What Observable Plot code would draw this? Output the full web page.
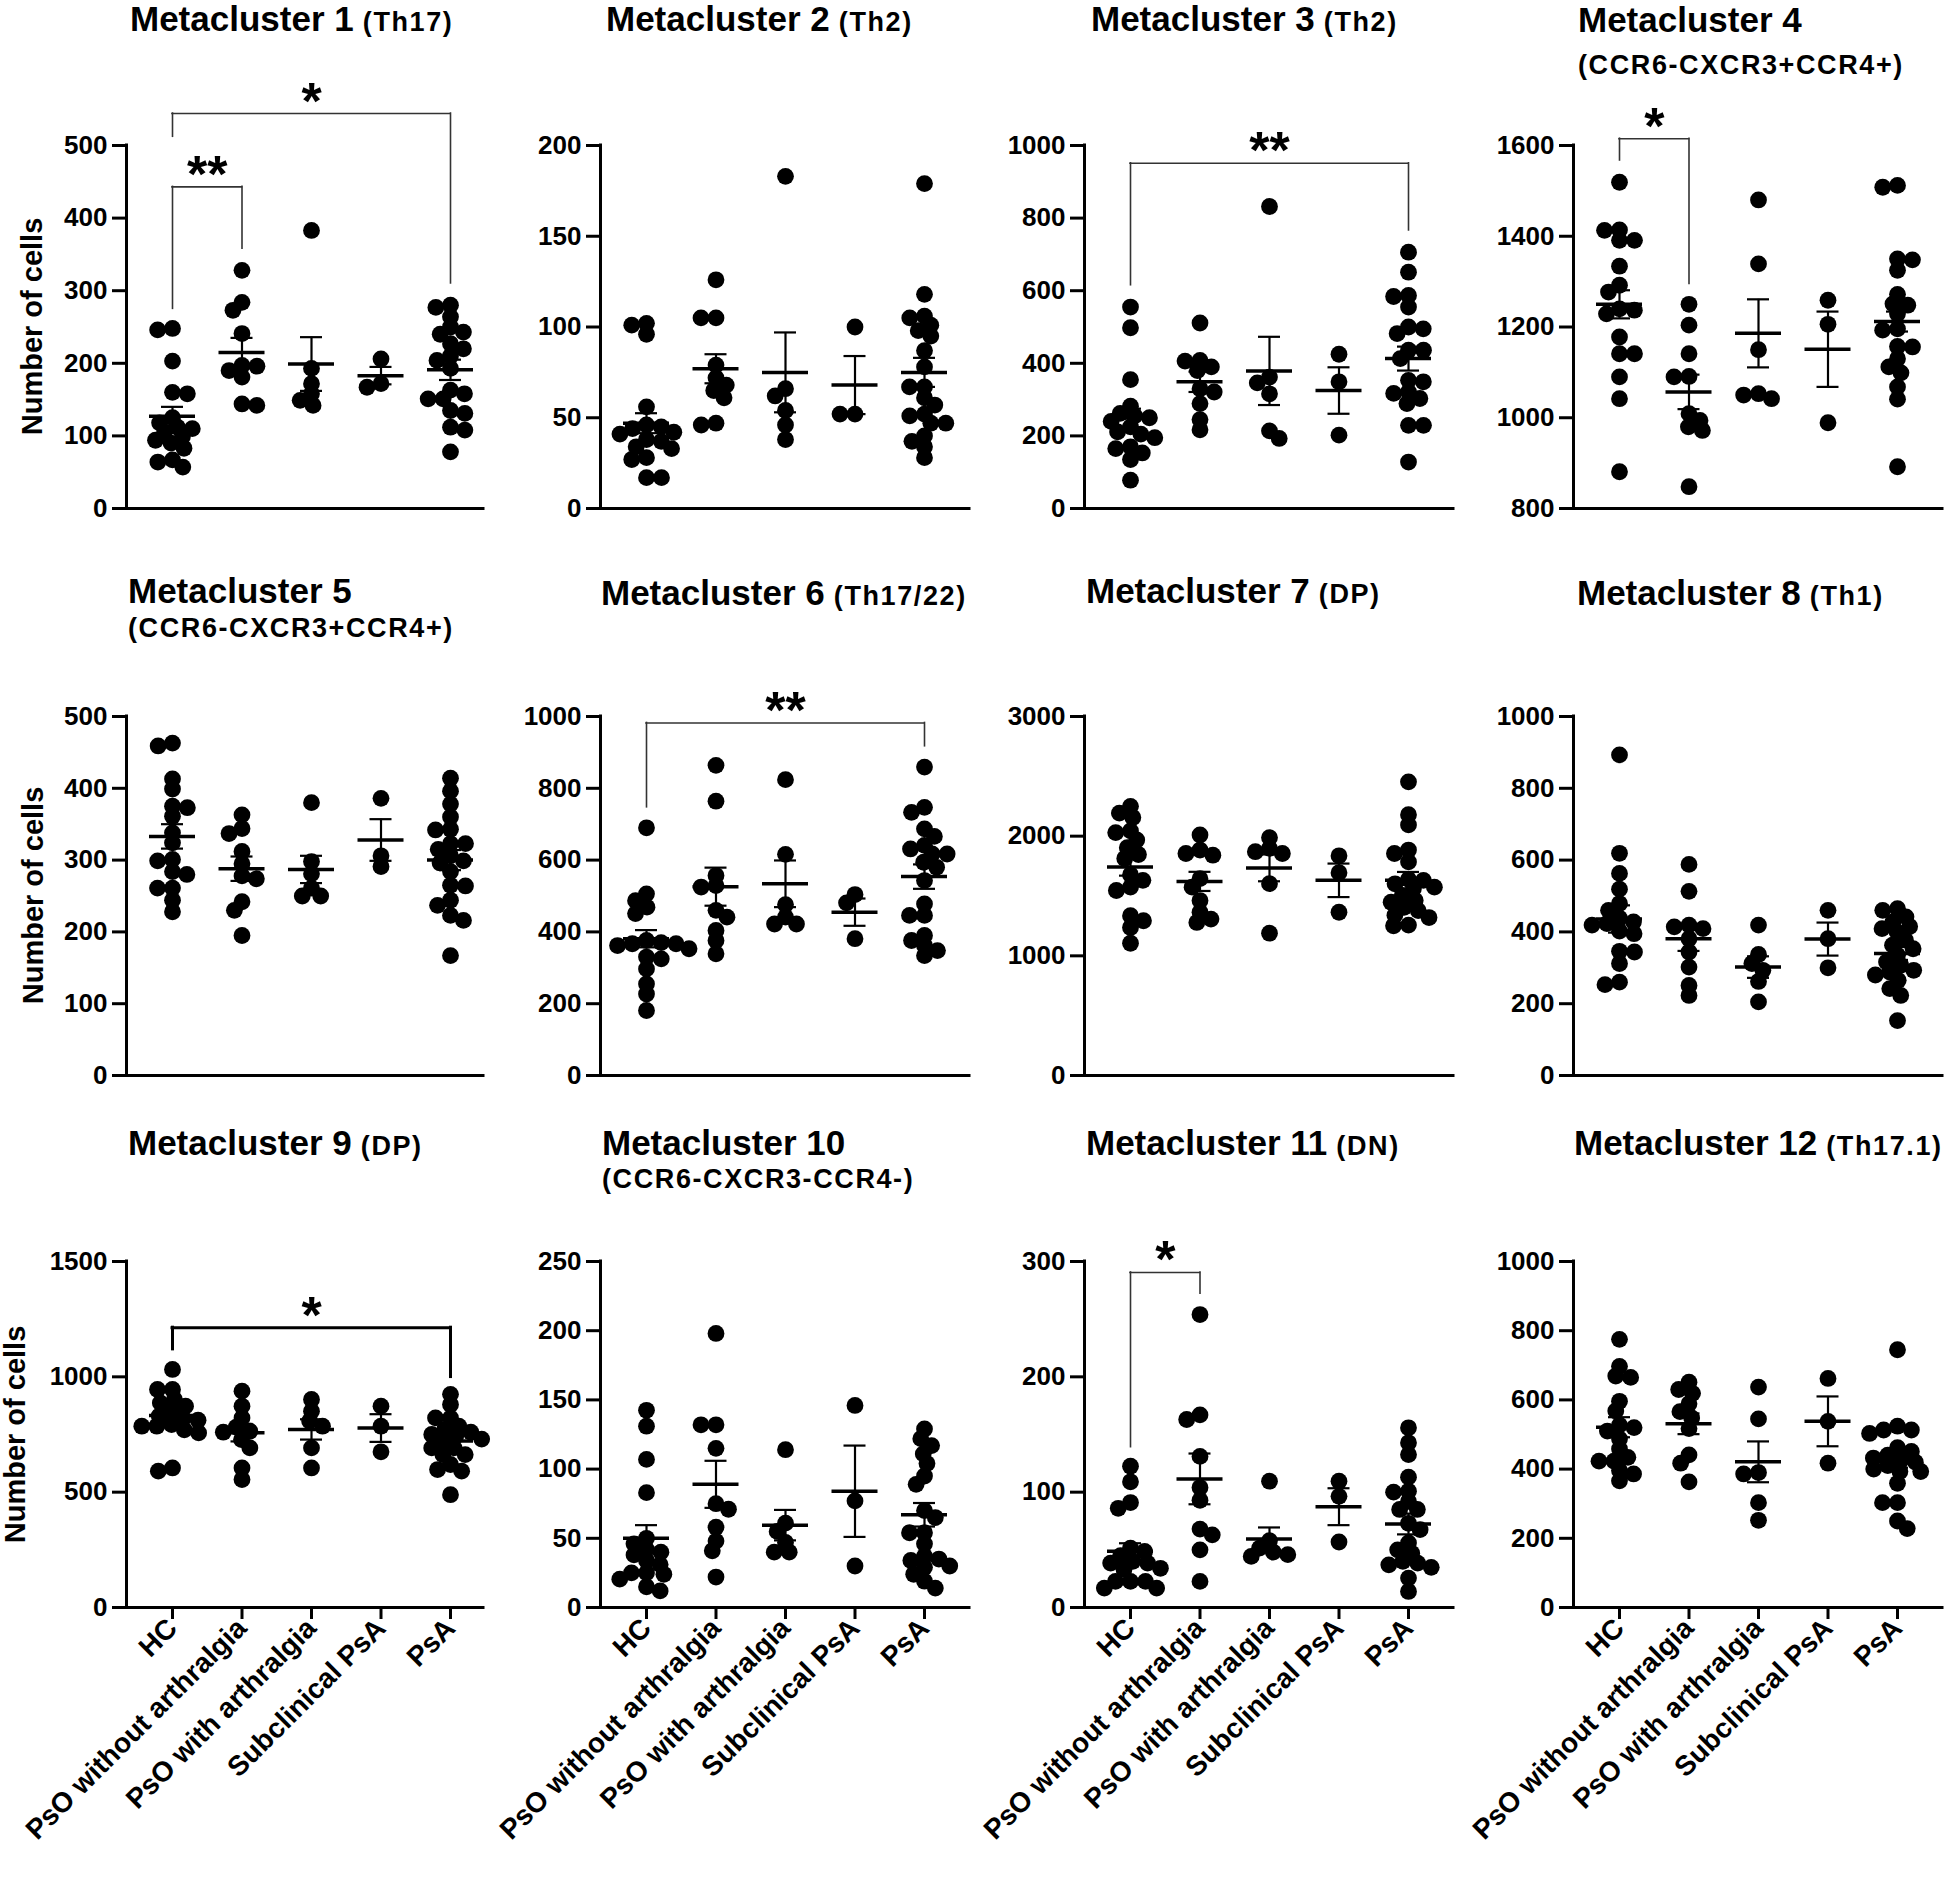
<!DOCTYPE html>
<html>
<head>
<meta charset="utf-8">
<script src="https://cdn.jsdelivr.net/npm/d3@7"></script>
<script src="https://cdn.jsdelivr.net/npm/@observablehq/plot@0.6"></script>
<style>
  html, body { margin: 0; padding: 0; background: #fff; }
  #root { position: relative; width: 1944px; height: 1899px; overflow: hidden; background: #fff;
          font-family: "Liberation Sans", Arial, Helvetica, sans-serif; color: #000; }
  .panel { position: absolute; }
  .panel svg { overflow: visible; }
  .title { position: absolute; white-space: nowrap; font-weight: bold; line-height: 1; }
  .main { font-size: 35px; }
  .tag { font-size: 27px; letter-spacing: 1.6px; }
  .ylab { position: absolute; width: 400px; height: 29px; line-height: 1; font-size: 29px; font-weight: bold;
          text-align: center; white-space: nowrap; transform-origin: 200px 24.5px; transform: rotate(-90deg); }
</style>
</head>
<body>
<div id="root"></div>
<script>
// ---------------- DATA ----------------
const groups = ["HC", "PsO without arthralgia", "PsO with arthralgia", "Subclinical PsA", "PsA"];
const titles = ["Metacluster 1", "Metacluster 2", "Metacluster 3", "Metacluster 4", "Metacluster 5", "Metacluster 6",
                "Metacluster 7", "Metacluster 8", "Metacluster 9", "Metacluster 10", "Metacluster 11", "Metacluster 12"];
const tags = ["(Th17)", "(Th2)", "(Th2)", "(CCR6-CXCR3+CCR4+)", "(CCR6-CXCR3+CCR4+)", "(Th17/22)",
              "(DP)", "(Th1)", "(DP)", "(CCR6-CXCR3-CCR4-)", "(DN)", "(Th17.1)"];
const yLabel = "Number of cells";

// Metacluster 1
const mc1Ticks = [0, 100, 200, 300, 400, 500];
const mc1 = [
  [248, 246, 203, 160, 158, 125, 118, 112, 110, 105, 99, 94, 90, 83, 67, 64, 57],
  [328, 284, 273, 241, 197, 196, 190, 181, 144, 142],
  [383, 193, 172, 158, 149, 142],
  [206, 172, 167],
  [280, 277, 264, 250, 243, 240, 227, 220, 210, 204, 193, 163, 158, 151, 151, 135, 131, 112, 108, 78]
];
const mc1Mean = [127, 215, 199, 183, 191];
const mc1Sem = [13, 20, 37, 12, 14];
const mc1Sig = [[0, 1, 443, 275, 358, "**"], [0, 4, 544, 512, 310, "*"]];

// Metacluster 2
const mc2Ticks = [0, 50, 100, 150, 200];
const mc2 = [
  [102, 101, 96, 56, 46, 45, 44, 42, 41, 38, 37, 34, 33, 28, 27, 17, 17],
  [126, 105, 105, 79, 72, 68, 65, 61, 47, 46],
  [183, 66, 62, 54, 46, 38],
  [100, 52, 52],
  [179, 118, 106, 105, 101, 98, 95, 87, 78, 67, 67, 61, 57, 52, 51, 47, 47, 40, 37, 34, 28]
];
const mc2Mean = [47, 77, 75, 68, 75];
const mc2Sem = [5.5, 8, 22, 16, 8];
const mc2Sig = [];

// Metacluster 3
const mc3Ticks = [0, 200, 400, 600, 800, 1000];
const mc3 = [
  [555, 498, 355, 282, 262, 255, 250, 240, 225, 211, 205, 195, 170, 165, 153, 135, 78],
  [511, 408, 406, 390, 380, 330, 321, 289, 245, 217],
  [832, 362, 346, 316, 214, 193],
  [425, 349, 202],
  [706, 651, 587, 584, 555, 500, 495, 482, 436, 436, 413, 353, 349, 321, 317, 303, 289, 229, 229, 128]
];
const mc3Mean = [249, 349, 379, 325, 413];
const mc3Sem = [26, 28, 94, 64, 33];
const mc3Sig = [[0, 4, 951, 615, 766, "**"]];

// Metacluster 4
const mc4Ticks = [800, 1000, 1200, 1400, 1600];
const mc4 = [
  [1519, 1414, 1413, 1391, 1391, 1334, 1292, 1277, 1240, 1237, 1229, 1178, 1141, 1141, 1090, 1042, 881],
  [1250, 1204, 1141, 1091, 1090, 1009, 994, 980, 972, 848],
  [1480, 1339, 1150, 1053, 1050, 1042],
  [1259, 1206, 989],
  [1512, 1508, 1350, 1348, 1325, 1272, 1251, 1248, 1229, 1196, 1193, 1157, 1156, 1130, 1112, 1099, 1068, 1041, 892]
];
const mc4Mean = [1250, 1057, 1186, 1151, 1212];
const mc4Sem = [31, 38, 75, 83, 22];
const mc4Sig = [[0, 1, 1615, 1567, 1295, "*"]];

// Metacluster 5
const mc5Ticks = [0, 100, 200, 300, 400, 500];
const mc5 = [
  [463, 459, 413, 399, 375, 373, 361, 338, 324, 301, 299, 284, 280, 261, 261, 244, 228],
  [363, 344, 337, 312, 295, 278, 274, 242, 230, 195],
  [380, 298, 281, 261, 250, 250],
  [386, 306, 291],
  [414, 396, 378, 360, 343, 342, 323, 323, 315, 306, 299, 296, 284, 265, 264, 244, 237, 223, 216, 167]
];
const mc5Mean = [333, 288, 287, 328, 300];
const mc5Sem = [17, 17, 19, 29, 14];
const mc5Sig = [];

// Metacluster 6
const mc6Ticks = [0, 200, 400, 600, 800, 1000];
const mc6 = [
  [690, 506, 487, 469, 451, 376, 370, 367, 367, 362, 353, 330, 325, 297, 255, 227, 181],
  [864, 764, 557, 529, 525, 460, 441, 404, 376, 339],
  [824, 616, 476, 441, 422, 422],
  [504, 481, 381],
  [859, 747, 733, 687, 666, 641, 631, 617, 617, 594, 580, 543, 478, 446, 446, 390, 376, 362, 348, 334]
];
const mc6Mean = [381, 526, 534, 455, 554];
const mc6Sem = [24, 53, 65, 38, 34];
const mc6Sig = [[0, 4, 982, 747, 917, "**"]];

// Metacluster 7
const mc7Ticks = [0, 1000, 2000, 3000];
const mc7 = [
  [2249, 2193, 2156, 2044, 2030, 1968, 1903, 1847, 1813, 1678, 1631, 1574, 1546, 1335, 1293, 1237, 1105],
  [2010, 1884, 1855, 1841, 1645, 1574, 1462, 1364, 1307, 1279],
  [1988, 1898, 1870, 1855, 1603, 1189],
  [1836, 1695, 1364],
  [2454, 2179, 2094, 1884, 1855, 1785, 1639, 1631, 1602, 1574, 1560, 1504, 1462, 1448, 1406, 1378, 1340, 1320, 1257, 1251]
];
const mc7Mean = [1743, 1622, 1735, 1631, 1631];
const mc7Sem = [73, 80, 112, 140, 70];
const mc7Sig = [];

// Metacluster 8
const mc8Ticks = [0, 200, 400, 600, 800, 1000];
const mc8 = [
  [893, 619, 563, 519, 479, 460, 438, 428, 423, 419, 402, 395, 346, 344, 312, 260, 253],
  [588, 513, 419, 414, 409, 381, 344, 302, 251, 223],
  [419, 337, 312, 293, 262, 205],
  [460, 381, 300],
  [465, 460, 442, 428, 415, 409, 400, 377, 363, 353, 335, 316, 307, 293, 288, 280, 265, 242, 223, 153]
];
const mc8Mean = [436, 381, 302, 380, 340];
const mc8Sem = [38, 34, 30, 46, 18];
const mc8Sig = [];

// Metacluster 9
const mc9Ticks = [0, 500, 1000, 1500];
const mc9 = [
  [1032, 945, 945, 902, 887, 873, 850, 830, 820, 812, 793, 786, 786, 770, 757, 605, 591],
  [938, 873, 822, 782, 764, 760, 728, 692, 605, 555],
  [902, 851, 808, 786, 692, 605],
  [873, 786, 675],
  [924, 880, 822, 822, 786, 772, 760, 750, 743, 730, 721, 692, 692, 663, 663, 620, 598, 591, 489]
];
const mc9Mean = [832, 758, 772, 778, 722];
const mc9Sem = [28, 38, 44, 60, 22];
const mc9Sig = [[0, 4, 1213, 1119, 999, "*"]];

// Metacluster 10
const mc10Ticks = [0, 50, 100, 150, 200, 250];
const mc10 = [
  [142.5, 131, 107, 83, 50, 46, 42, 40, 38, 34, 31, 25, 25, 24, 20.5, 15, 12],
  [198, 132, 132, 115, 75, 71, 58, 48, 41, 22],
  [114, 61, 55, 47, 40, 40],
  [146, 77, 30],
  [129, 122, 117, 111, 104, 95, 89, 70, 65, 54, 54, 46, 37, 35, 34, 30, 29, 24, 19, 14]
];
const mc10Mean = [50, 89, 59.5, 84, 67];
const mc10Sem = [9.5, 17, 11, 33, 8.5];
const mc10Sig = [];

// Metacluster 11
const mc11Ticks = [0, 100, 200, 300];
const mc11 = [
  [122.5, 109, 91, 86, 51.5, 48.6, 45, 40, 38.5, 38.5, 34, 33, 22.6, 22.6, 22.6, 16.8, 16.8],
  [254, 167, 163, 131, 104, 93, 68, 63, 50, 22.6],
  [109.5, 58, 51.5, 48, 45.8, 44.3],
  [109.5, 96.4, 56.8],
  [155.8, 142.8, 132.6, 113, 100.8, 100, 92, 85, 85, 73, 67.5, 56, 50, 47, 40, 38.5, 37, 34.8, 25.5, 13.9]
];
const mc11Mean = [48.7, 111.5, 59.4, 87.4, 72.4];
const mc11Sem = [7, 22, 10, 16, 9];
const mc11Sig = [[0, 1, 290.5, 139, 272, "*"]];

// Metacluster 12
const mc12Ticks = [0, 200, 400, 600, 800, 1000];
const mc12 = [
  [775, 697, 669, 665, 596, 568, 527, 520, 510, 487, 458, 434, 423, 423, 396, 386, 366],
  [651, 630, 619, 589, 566, 548, 517, 441, 417, 363],
  [637, 545, 390, 386, 303, 252],
  [662, 538, 417],
  [745, 524, 513, 513, 503, 462, 451, 440, 432, 425, 420, 410, 400, 393, 393, 359, 303, 303, 250, 228]
];
const mc12Mean = [521, 531, 421, 538, 423];
const mc12Sem = [29, 30, 59, 72, 19];
const mc12Sig = [];

// ---------------- LAYOUT ----------------
const FONT = '"Liberation Sans", Arial, Helvetica, sans-serif';
const COLS = [
  {left: 0, ml: 126, mr: 3},
  {left: 486, ml: 114, mr: 3},
  {left: 972, ml: 112, mr: 5},
  {left: 1458, ml: 115, mr: 2}
];
const ROWS = [
  {top: 0, h: 528, mt: 145, mb: 20, ylab: 42},
  {top: 540, h: 555, mt: 176, mb: 20, ylab: 43},
  {top: 1100, h: 799, mt: 161, mb: 292, ylab: 25}
];
// title left x, baseline y, optional second-line baseline
const TITLE_POS = [[130, 31], [606, 31], [1091, 31], [1578, 32, 75], [128, 603, 638], [601, 605],
                   [1086, 603], [1577, 605], [128, 1155], [602, 1155, 1189], [1086, 1155], [1574, 1155]];
const SVG_W = 486;
const PX = 69.5;             // pixels per category step
const FIRST = 46;            // first category offset from y axis
const DX = 15, DY = 10;      // elliptical collision extents (px)
const R_DOT = 8.4;
const MEAN_HW = 23 / PX, CAP_HW = 11 / PX;

const panels = [
  {vals: mc1, mean: mc1Mean, sem: mc1Sem, ticks: mc1Ticks, sig: mc1Sig},
  {vals: mc2, mean: mc2Mean, sem: mc2Sem, ticks: mc2Ticks, sig: mc2Sig},
  {vals: mc3, mean: mc3Mean, sem: mc3Sem, ticks: mc3Ticks, sig: mc3Sig},
  {vals: mc4, mean: mc4Mean, sem: mc4Sem, ticks: mc4Ticks, sig: mc4Sig},
  {vals: mc5, mean: mc5Mean, sem: mc5Sem, ticks: mc5Ticks, sig: mc5Sig},
  {vals: mc6, mean: mc6Mean, sem: mc6Sem, ticks: mc6Ticks, sig: mc6Sig},
  {vals: mc7, mean: mc7Mean, sem: mc7Sem, ticks: mc7Ticks, sig: mc7Sig},
  {vals: mc8, mean: mc8Mean, sem: mc8Sem, ticks: mc8Ticks, sig: mc8Sig},
  {vals: mc9, mean: mc9Mean, sem: mc9Sem, ticks: mc9Ticks, sig: mc9Sig},
  {vals: mc10, mean: mc10Mean, sem: mc10Sem, ticks: mc10Ticks, sig: mc10Sig},
  {vals: mc11, mean: mc11Mean, sem: mc11Sem, ticks: mc11Ticks, sig: mc11Sig},
  {vals: mc12, mean: mc12Mean, sem: mc12Sem, ticks: mc12Ticks, sig: mc12Sig}
];

// beeswarm offsets (in pixels) for one group, elliptical collision
function swarm(vals, pxPerUnit) {
  const placed = [], out = [];
  const order = vals.slice().sort((a, b) => b - a);
  let nl = 0, nr = 0;
  for (const v of order) {
    const py = v * pxPerUnit;
    const cands = [0];
    for (const q of placed) {
      const dy = Math.abs(q.py - py);
      if (dy < DY) { const w = DX * Math.sqrt(1 - (dy / DY) ** 2); cands.push(q.px - w, q.px + w); }
    }
    const ok = c => placed.every(q => ((q.px - c) / DX) ** 2 + ((q.py - py) / DY) ** 2 >= 1 - 1e-4);
    const valid = cands.filter(ok);
    valid.sort((a, b) => {
      const d = Math.abs(a) - Math.abs(b);
      if (Math.abs(d) > 0.5) return d;
      return nl <= nr ? a - b : b - a;
    });
    const px = valid[0];
    if (px < -0.5) nl++; else if (px > 0.5) nr++;
    placed.push({px, py});
    out.push({v, off: px});
  }
  return out;
}

const root = document.getElementById("root");

panels.forEach((P, k) => {
  const C = COLS[k % 4], R = ROWS[Math.floor(k / 4)];
  const bottomRow = Math.floor(k / 4) === 2;
  const ymin = P.ticks[0], ymax = P.ticks[P.ticks.length - 1];
  const frameH = R.h - R.mt - R.mb;
  const frameW = SVG_W - C.ml - C.mr;
  const pxPerUnit = frameH / (ymax - ymin);
  const xlo = -FIRST / PX, xhi = xlo + frameW / PX;

  const dots = [];
  P.vals.forEach((vals, g) => {
    for (const d of swarm(vals, pxPerUnit)) dots.push({x: g + d.off / PX, y: d.v});
  });
  const stats = P.mean.map((m, g) => ({g, mean: m, sem: P.sem[g]}));
  const sig = P.sig.map(s => ({a: s[0], b: s[1], level: s[2], ya: s[3], yb: s[4], label: s[5]}));
  const thick = k === 8;
  const bStroke = thick ? "#000" : "#333";
  const bWidth = thick ? 3 : 1.6;

  const marks = [
    Plot.ruleY([ymin], {strokeWidth: 3, strokeLinecap: "square"}),
    Plot.ruleX([xlo], {y1: ymin, y2: ymax, strokeWidth: 3, strokeLinecap: "square"}),
    Plot.axisY({ticks: P.ticks, tickSize: 14, tickPadding: 5, strokeWidth: 3, fontSize: 26,
                fontWeight: "bold", label: null, tickFormat: d => String(d)}),
    Plot.dot(dots, {x: "x", y: "y", r: R_DOT, fill: "#000", stroke: "none"}),
    Plot.ruleX(stats, {x: "g", y1: d => d.mean - d.sem, y2: d => d.mean + d.sem, strokeWidth: 2.2}),
    Plot.ruleY(stats, {y: d => d.mean + d.sem, x1: d => d.g - CAP_HW, x2: d => d.g + CAP_HW, strokeWidth: 2.2}),
    Plot.ruleY(stats, {y: d => d.mean - d.sem, x1: d => d.g - CAP_HW, x2: d => d.g + CAP_HW, strokeWidth: 2.2}),
    Plot.ruleY(stats, {y: "mean", x1: d => d.g - MEAN_HW, x2: d => d.g + MEAN_HW, strokeWidth: 3.5}),
    Plot.ruleY(sig, {y: "level", x1: "a", x2: "b", stroke: bStroke, strokeWidth: bWidth, strokeLinecap: "square"}),
    Plot.ruleX(sig, {x: "a", y1: "ya", y2: "level", stroke: bStroke, strokeWidth: bWidth, strokeLinecap: "square"}),
    Plot.ruleX(sig, {x: "b", y1: "yb", y2: "level", stroke: bStroke, strokeWidth: bWidth, strokeLinecap: "square"}),
    Plot.text(sig, {x: d => (d.a + d.b) / 2, y: "level", text: "label", fontSize: 52, fontWeight: "bold",
                    lineAnchor: "bottom", dy: 5, fill: "#000"})
  ];
  if (bottomRow) {
    marks.push(Plot.axisX({ticks: [0, 1, 2, 3, 4], tickFormat: i => groups[i], tickRotate: -45, tickSize: 12,
                           tickPadding: 4, strokeWidth: 3, fontSize: 28, fontWeight: "bold", label: null}));
  }

  const svg = Plot.plot({
    width: SVG_W, height: R.h,
    marginLeft: C.ml, marginRight: C.mr, marginTop: R.mt, marginBottom: R.mb,
    x: {domain: [xlo, xhi], axis: null},
    y: {domain: [ymin, ymax], axis: null},
    style: {fontFamily: FONT, fontWeight: "bold", background: "transparent", color: "#000", overflow: "visible"},
    marks
  });
  const div = document.createElement("div");
  div.className = "panel";
  div.style.left = C.left + "px";
  div.style.top = R.top + "px";
  div.appendChild(svg);
  root.appendChild(div);

  // title
  const tp = TITLE_POS[k];
  const t = document.createElement("div");
  t.className = "title";
  t.style.left = tp[0] + "px";
  t.style.top = (tp[1] - 0.8465 * 35) + "px";
  const m = document.createElement("span");
  m.className = "main";
  m.textContent = titles[k];
  t.appendChild(m);
  if (tp.length === 2) {
    const s = document.createElement("span");
    s.className = "tag";
    s.textContent = " " + tags[k];
    t.appendChild(s);
  }
  root.appendChild(t);
  if (tp.length === 3) {
    const t2 = document.createElement("div");
    t2.className = "title tag";
    t2.style.left = tp[0] + "px";
    t2.style.top = (tp[2] - 0.8465 * 27) + "px";
    t2.textContent = tags[k];
    root.appendChild(t2);
  }

  // y label on first column
  if (k % 4 === 0) {
    const yl = document.createElement("div");
    yl.className = "ylab";
    const cy = R.top + R.mt + frameH / 2;
    yl.style.left = (R.ylab - 200) + "px";
    yl.style.top = (cy - 24.5) + "px";
    yl.textContent = yLabel;
    root.appendChild(yl);
  }
});
</script>
</body>
</html>
